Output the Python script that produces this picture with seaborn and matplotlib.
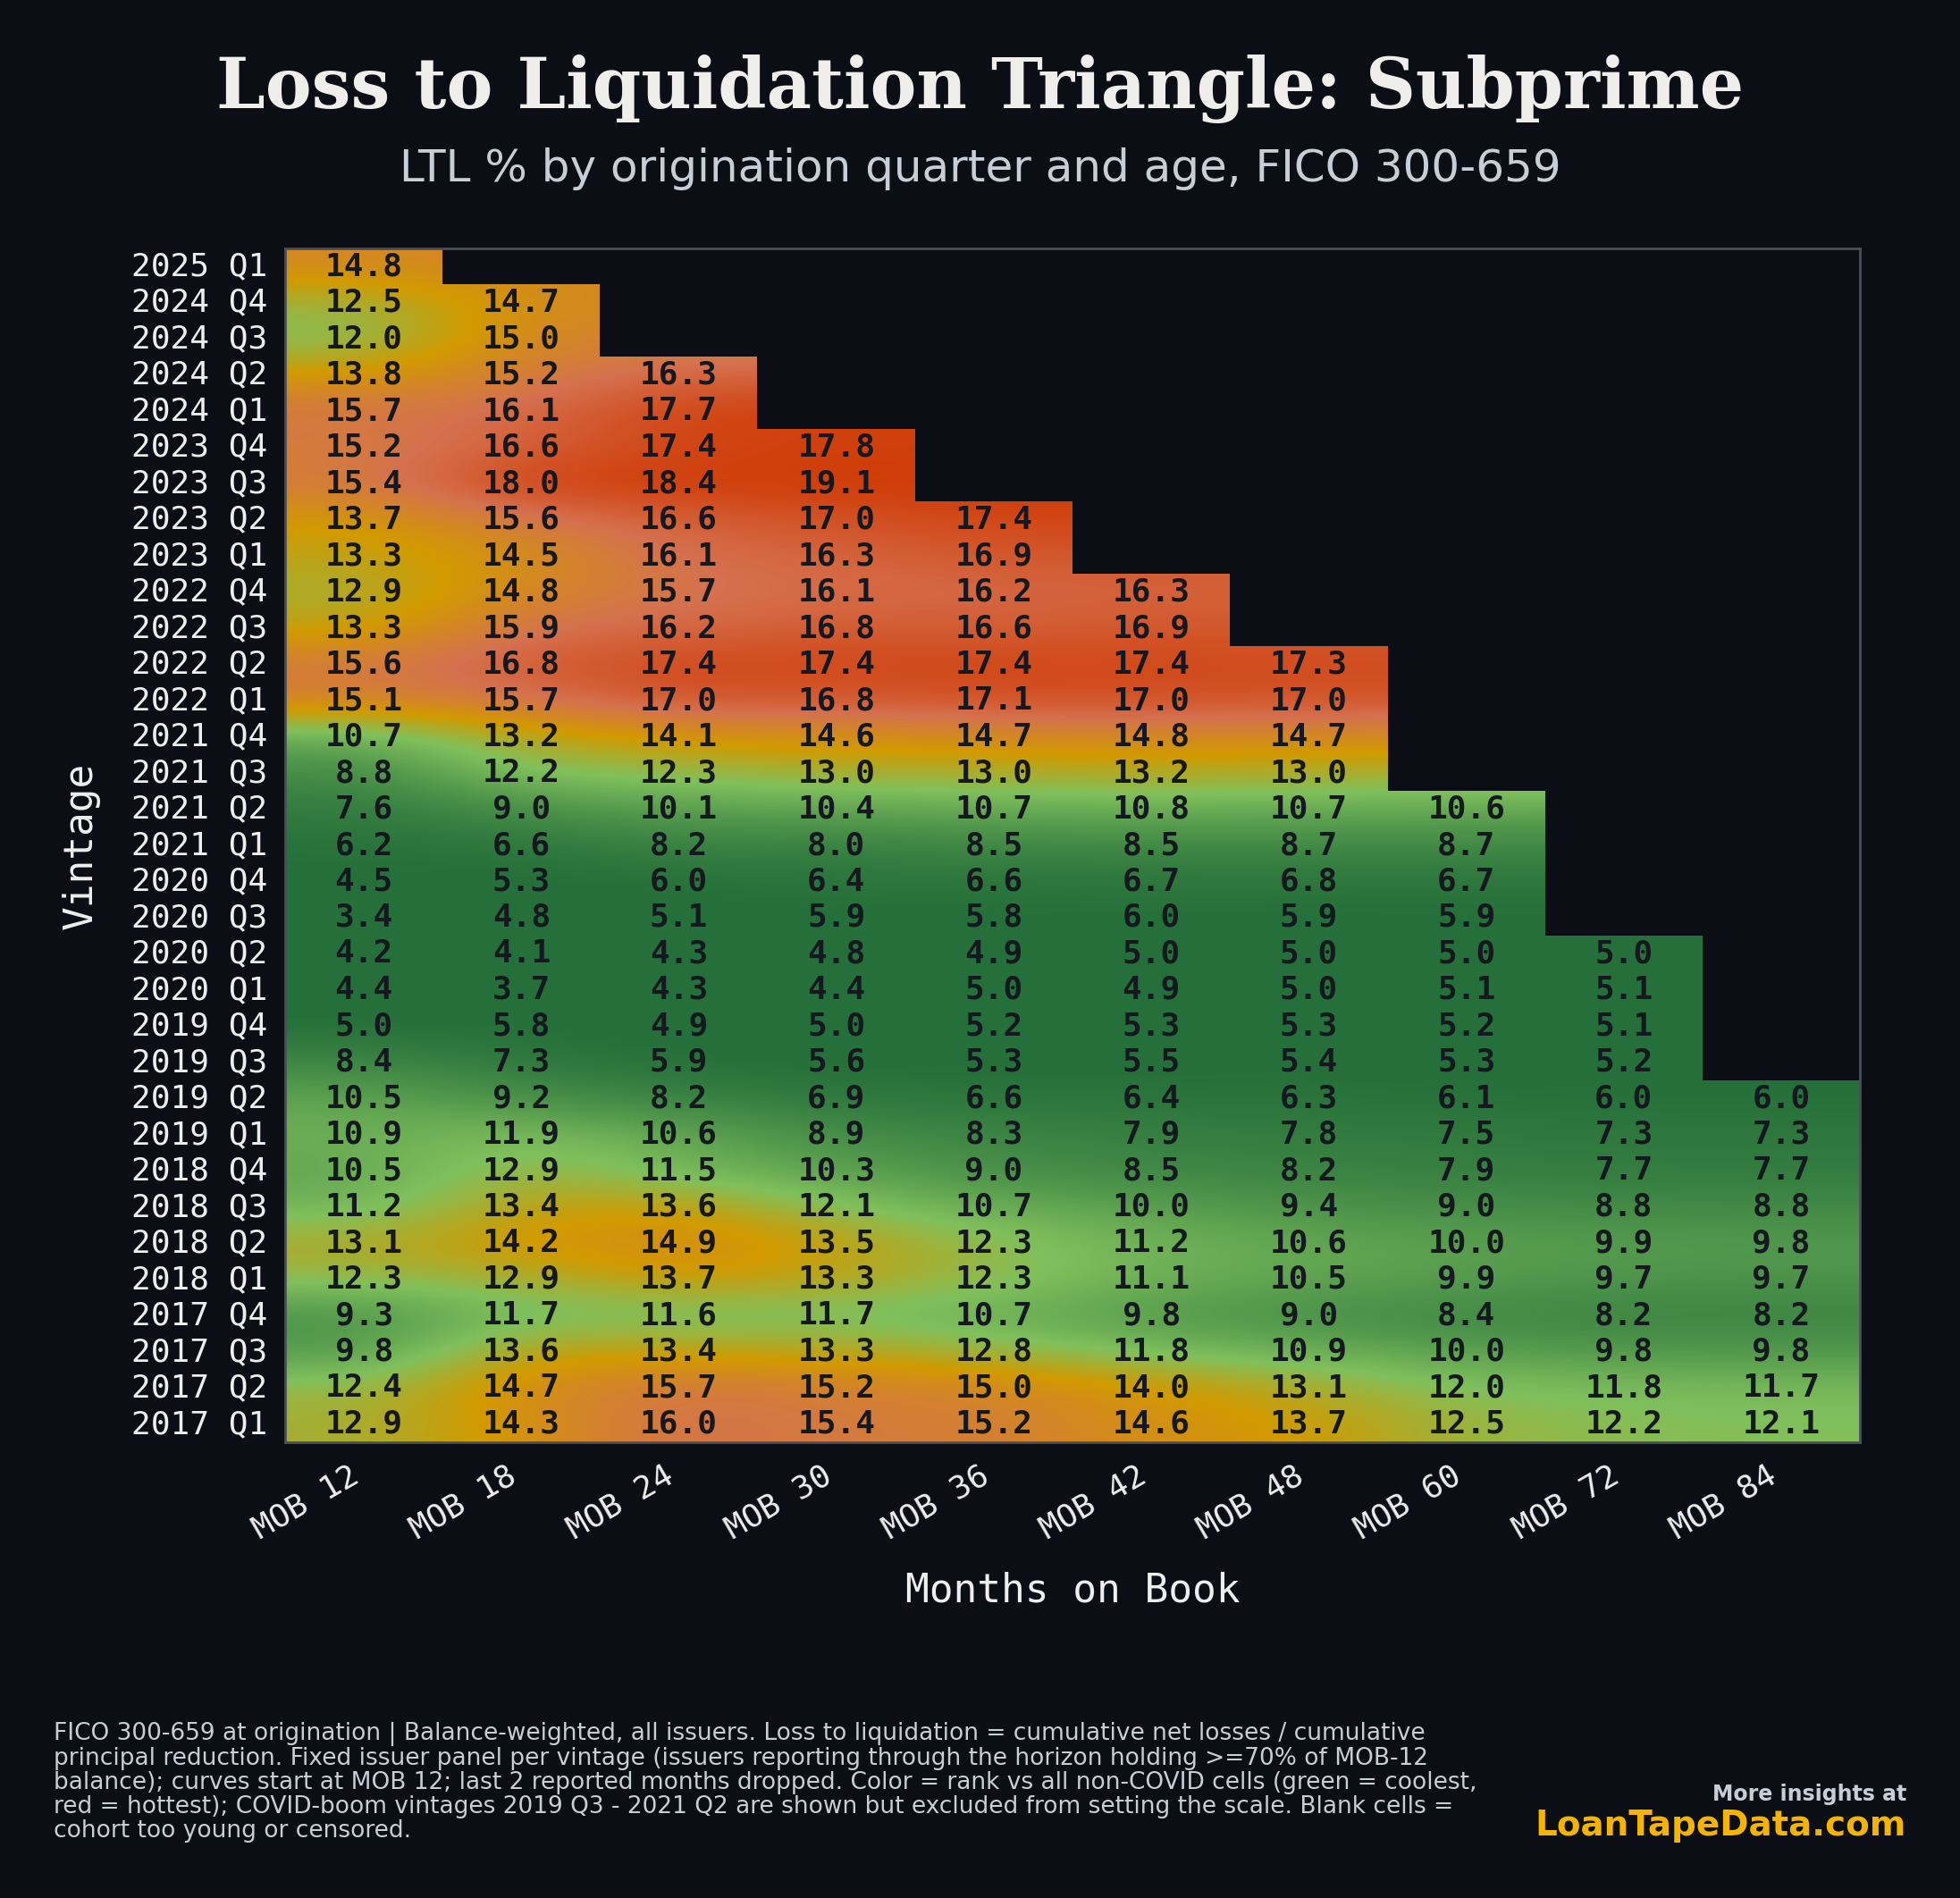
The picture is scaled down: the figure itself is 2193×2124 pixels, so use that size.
# ===========================
# Loss to Liquidation Triangle: Subprime
# ===========================

import numpy as np
import pandas as pd
import matplotlib
matplotlib.use("Agg")
import matplotlib.pyplot as plt
from matplotlib.colors import LinearSegmentedColormap, ListedColormap
import seaborn as sns

# ---------------------------
# Data (vintages oldest first, each MOB column stops at the youngest
# vintage that has reached that age)
# ---------------------------
years = [2017, 2018, 2019, 2020, 2021, 2022, 2023, 2024, 2025]
vintages = [f"{y} Q{q}" for y in years for q in range(1, 5)][:33]
mob_labels = ["MOB 12", "MOB 18", "MOB 24", "MOB 30", "MOB 36",
              "MOB 42", "MOB 48", "MOB 60", "MOB 72", "MOB 84"]
covid_vintages = ["2019 Q3", "2019 Q4", "2020 Q1", "2020 Q2",
                  "2020 Q3", "2020 Q4", "2021 Q1", "2021 Q2"]

mob_12 = [12.9, 12.4, 9.8, 9.3, 12.3, 13.1, 11.2, 10.5, 10.9, 10.5, 8.4, 5.0,
          4.4, 4.2, 3.4, 4.5, 6.2, 7.6, 8.8, 10.7, 15.1, 15.6, 13.3, 12.9,
          13.3, 13.7, 15.4, 15.2, 15.7, 13.8, 12.0, 12.5, 14.8]
mob_18 = [14.3, 14.7, 13.6, 11.7, 12.9, 14.2, 13.4, 12.9, 11.9, 9.2, 7.3, 5.8,
          3.7, 4.1, 4.8, 5.3, 6.6, 9.0, 12.2, 13.2, 15.7, 16.8, 15.9, 14.8,
          14.5, 15.6, 18.0, 16.6, 16.1, 15.2, 15.0, 14.7]
mob_24 = [16.0, 15.7, 13.4, 11.6, 13.7, 14.9, 13.6, 11.5, 10.6, 8.2, 5.9, 4.9,
          4.3, 4.3, 5.1, 6.0, 8.2, 10.1, 12.3, 14.1, 17.0, 17.4, 16.2, 15.7,
          16.1, 16.6, 18.4, 17.4, 17.7, 16.3]
mob_30 = [15.4, 15.2, 13.3, 11.7, 13.3, 13.5, 12.1, 10.3, 8.9, 6.9, 5.6, 5.0,
          4.4, 4.8, 5.9, 6.4, 8.0, 10.4, 13.0, 14.6, 16.8, 17.4, 16.8, 16.1,
          16.3, 17.0, 19.1, 17.8]
mob_36 = [15.2, 15.0, 12.8, 10.7, 12.3, 12.3, 10.7, 9.0, 8.3, 6.6, 5.3, 5.2,
          5.0, 4.9, 5.8, 6.6, 8.5, 10.7, 13.0, 14.7, 17.1, 17.4, 16.6, 16.2,
          16.9, 17.4]
mob_42 = [14.6, 14.0, 11.8, 9.8, 11.1, 11.2, 10.0, 8.5, 7.9, 6.4, 5.5, 5.3,
          4.9, 5.0, 6.0, 6.7, 8.5, 10.8, 13.2, 14.8, 17.0, 17.4, 16.9, 16.3]
mob_48 = [13.7, 13.1, 10.9, 9.0, 10.5, 10.6, 9.4, 8.2, 7.8, 6.3, 5.4, 5.3,
          5.0, 5.0, 5.9, 6.8, 8.7, 10.7, 13.0, 14.7, 17.0, 17.3]
mob_60 = [12.5, 12.0, 10.0, 8.4, 9.9, 10.0, 9.0, 7.9, 7.5, 6.1, 5.3, 5.2,
          5.1, 5.0, 5.9, 6.7, 8.7, 10.6]
mob_72 = [12.2, 11.8, 9.8, 8.2, 9.7, 9.9, 8.8, 7.7, 7.3, 6.0, 5.2, 5.1,
          5.1, 5.0]
mob_84 = [12.1, 11.7, 9.8, 8.2, 9.7, 9.8, 8.8, 7.7, 7.3, 6.0]

# ---------------------------
# Style
# ---------------------------
BG = "#0b0e15"
TEXT = "#eeeeee"
SUBTLE = "#c8ced8"
SPINE = "#4a4f5a"
CELL_TEXT = "#15181e"
GOLD = "#f5b400"

sns.set_theme(style="dark", rc={
    "figure.facecolor": BG,
    "axes.facecolor": BG,
    "savefig.facecolor": BG,
    "text.color": TEXT,
    "axes.labelcolor": TEXT,
    "xtick.color": TEXT,
    "ytick.color": TEXT,
})
plt.rcParams["font.family"] = ["DejaVu Sans"]

# green (coolest) -> gold -> salmon -> red (hottest)
cmap = LinearSegmentedColormap.from_list("ltl_rank", [
    (0.0, "#25703a"),
    (0.2, "#4f954b"),
    (0.4, "#80c05c"),
    (0.6, "#d29a00"),
    (0.8, "#d5714f"),
    (1.0, "#d03a05"),
])


def build_table():
    """
    Arma la tabla vintage x MOB, con la vintage más reciente arriba.
    """
    cols = [mob_12, mob_18, mob_24, mob_30, mob_36,
            mob_42, mob_48, mob_60, mob_72, mob_84]
    table = pd.DataFrame(np.nan, index=vintages, columns=mob_labels)
    for name, col in zip(mob_labels, cols):
        table.iloc[:len(col), table.columns.get_loc(name)] = col
    return table.iloc[::-1]


def rank_table(table):
    """
    Rango percentil de cada celda frente a las celdas no-COVID.
    """
    ref = table.drop(index=covid_vintages).stack().dropna().sort_values().values
    vals = table.values
    lo = np.searchsorted(ref, vals, side="left")
    hi = np.searchsorted(ref, vals, side="right")
    ranks = (lo + hi) / 2.0 / len(ref)
    ranks[np.isnan(vals)] = np.nan
    return pd.DataFrame(ranks, index=table.index, columns=table.columns)


table = build_table()
ranks = rank_table(table)
blank = table.isna()
n_rows, n_cols = table.shape

fig = plt.figure(figsize=(2193 / 200, 2124 / 200), dpi=200)
ax = fig.add_axes([0.1455, 0.2401, 0.8035, 0.629])

sns.heatmap(ranks, mask=blank, cmap=cmap, vmin=0, vmax=1, cbar=False,
            annot=table, fmt=".1f", ax=ax,
            annot_kws={"fontsize": 13, "fontweight": "bold",
                       "color": CELL_TEXT, "family": "DejaVu Sans Mono"})

# smooth color field drawn over the cells, blank cells masked on top
filled = ranks.ffill(axis=1).values
ax.imshow(filled, cmap=cmap, vmin=0, vmax=1, interpolation="bicubic",
          aspect="auto", extent=(0, n_cols, n_rows, 0), zorder=1.2)
ax.imshow(np.where(blank.values, 1.0, np.nan), cmap=ListedColormap([BG]),
          interpolation="nearest", aspect="auto",
          extent=(0, n_cols, n_rows, 0), zorder=1.5)
ax.set_xlim(0, n_cols)
ax.set_ylim(n_rows, 0)

for spine in ax.spines.values():
    spine.set_visible(True)
    spine.set_color(SPINE)
    spine.set_linewidth(1.0)

ax.tick_params(axis="both", length=3.5, width=0.8, colors=TEXT, labelsize=13)
ax.set_yticklabels(table.index, rotation=0, family="DejaVu Sans Mono")
ax.set_xticklabels(mob_labels, rotation=30, ha="right",
                   family="DejaVu Sans Mono")

ax.set_ylabel("Vintage", fontsize=16, family="DejaVu Sans Mono")
ax.set_xlabel("Months on Book", fontsize=16, family="DejaVu Sans Mono")
ax.yaxis.set_label_coords(-0.13, 0.5)
ax.xaxis.set_label_coords(0.5, -0.124)
ax.xaxis.label.set_va("center")
ax.yaxis.label.set_va("center")

# titles
fig.text(0.5, 0.953, "Loss to Liquidation Triangle: Subprime", ha="center",
         va="center", fontsize=28, fontweight="bold", family="DejaVu Serif",
         color="#f0eeea")
fig.text(0.5, 0.911, "LTL % by origination quarter and age, FICO 300-659",
         ha="center", va="center", fontsize=18, color=SUBTLE)

# footer
note = ("FICO 300-659 at origination | Balance-weighted, all issuers. Loss to liquidation = cumulative net losses / cumulative\n"
        "principal reduction. Fixed issuer panel per vintage (issuers reporting through the horizon holding >=70% of MOB-12\n"
        "balance); curves start at MOB 12; last 2 reported months dropped. Color = rank vs all non-COVID cells (green = coolest,\n"
        "red = hottest); COVID-boom vintages 2019 Q3 - 2021 Q2 are shown but excluded from setting the scale. Blank cells =\n"
        "cohort too young or censored.")
fig.text(0.0274, 0.0927, note, ha="left", va="top", fontsize=9.5,
         linespacing=1.05, color=SUBTLE)
fig.text(0.9726, 0.0546, "More insights at", ha="right", va="center",
         fontsize=8.5, fontweight="bold", color=SUBTLE)
fig.text(0.9726, 0.038, "LoanTapeData.com", ha="right", va="center",
         fontsize=14, fontweight="bold", color=GOLD)

fig.savefig("out.png", dpi=200, facecolor=BG)
